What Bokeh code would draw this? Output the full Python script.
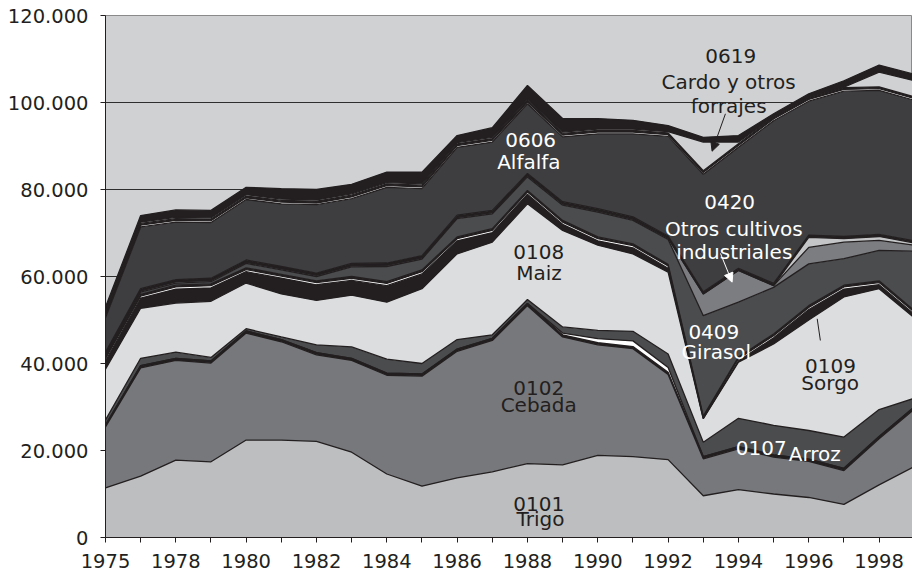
import numpy as np
from bokeh.plotting import figure
from bokeh.models import Range1d, FixedTicker, Arrow, NormalHead, ColumnDataSource
from bokeh.embed import file_html
from bokeh.resources import INLINE
from bokeh.core.properties import value

# ---------------- data (hectares) ----------------
years = ["1975", "1977", "1978", "1979", "1980", "1981", "1982", "1983", "1984", "1985",
         "1986", "1987", "1988", "1989", "1990", "1991", "1992", "1993", "1994", "1995",
         "1996", "1997", "1998", "1999"]

trigo = [11400, 14100, 17800, 17400, 22400, 22400, 22100, 19600, 14600, 11800, 13700, 15100,
         17000, 16700, 18900, 18600, 17900, 9600, 11000, 10000, 9200, 7600, 12100, 16300]
cebada = [14000, 24900, 22900, 22700, 24600, 22600, 19900, 21100, 22700, 25300, 29100, 30200,
          36300, 29400, 25400, 24800, 19600, 8500, 9400, 8500, 8300, 7800, 10600, 13200]
avena = [500, 500, 500, 500, 500, 500, 500, 500, 500, 500, 500, 500,
         500, 500, 500, 500, 500, 500, 500, 500, 500, 500, 500, 500]
centeno = [0, 0, 0, 0, 0, 0, 0, 0, 0, 0, 0, 0,
           0, 400, 900, 1300, 1100, 0, 0, 0, 0, 0, 0, 0]
arroz = [1100, 1700, 1400, 800, 500, 600, 1800, 2600, 3200, 2400, 2200, 800,
         900, 1400, 1900, 2200, 3100, 3300, 6500, 6800, 6600, 7200, 6200, 2000]
maiz = [11700, 11500, 11300, 12900, 10500, 9900, 10200, 11900, 13100, 17200, 19700, 21300,
        22000, 22200, 19600, 17800, 18800, 5400, 12900, 18700, 25400, 32200, 27800, 18500]
sorgo = [1900, 2300, 3200, 3100, 2600, 3600, 3600, 3400, 3800, 3400, 3000, 2200,
         2200, 1400, 1000, 1400, 900, 100, 300, 1400, 2400, 1800, 900, 800]
otros_cereales = [500, 500, 500, 500, 500, 500, 500, 500, 500, 500, 500, 500,
                  500, 500, 500, 500, 500, 200, 500, 500, 500, 500, 500, 500]
leguminosas = [400, 400, 400, 400, 400, 400, 400, 400, 400, 400, 400, 400,
               400, 400, 400, 400, 400, 300, 400, 400, 400, 400, 400, 400]
girasol = [300, 500, 500, 500, 1000, 1000, 1000, 2200, 3500, 2500, 4200, 3400,
           3100, 3500, 5700, 5400, 5700, 23100, 12600, 10700, 9600, 6100, 7000, 13600]
otros_industriales = [300, 300, 300, 300, 300, 300, 300, 300, 300, 300, 300, 300,
                      300, 300, 300, 300, 300, 5000, 7300, 400, 3800, 3800, 2300, 1400]
hortalizas = [0, 0, 0, 0, 0, 0, 0, 0, 0, 0, 0, 0,
              0, 0, 0, 0, 0, 0, 0, 0, 2300, 800, 900, 500]
otros_cultivos = [500, 500, 500, 500, 500, 500, 500, 500, 500, 500, 500, 500,
                  500, 500, 500, 500, 500, 500, 500, 500, 500, 500, 500, 500]
alfalfa = [7900, 14200, 13200, 12800, 13900, 14400, 15700, 14900, 17400, 15400, 15600, 15700,
           16000, 14900, 17200, 19100, 22900, 27000, 27800, 37400, 30800, 33400, 33100, 32300]
veza = [400, 400, 400, 400, 400, 400, 400, 400, 400, 400, 400, 400,
        400, 400, 400, 400, 400, 400, 400, 400, 400, 400, 400, 400]
maiz_forrajero = [400, 400, 400, 400, 400, 400, 400, 400, 400, 400, 400, 400,
                  400, 400, 400, 400, 400, 400, 400, 400, 400, 400, 400, 400]
cardo = [300, 300, 300, 300, 300, 300, 300, 300, 300, 300, 300, 300,
         300, 300, 300, 300, 300, 6600, 400, 100, 100, 100, 3400, 3700]
resto = [1400, 1500, 1700, 1700, 1700, 2400, 2400, 2200, 2400, 2700, 1600, 2200,
         3100, 3100, 2400, 2000, 1400, 1100, 1500, 700, 800, 1500, 1600, 1500]

y_ticks = [0, 20000, 40000, 60000, 80000, 100000, 120000]
y_tick_labels = ["0", "20.000", "40.000", "60.000", "80.000", "100.000", "120.000"]

# labels drawn on the chart: text, year position, value position, colour
label_text = ["0619", "Cardo y otros", "forrajes", "0606", "Alfalfa", "0108", "Maiz",
              "0102", "Cebada", "0101", "Trigo", "0420", "Otros cultivos", "industriales",
              "0409", "Girasol", "0109", "Sorgo", "0107", "Arroz"]
label_x = [17.78, 17.72, 17.72, 12.09, 12.04, 12.32, 12.33, 12.32, 12.32, 12.32, 12.37,
           17.75, 17.87, 17.88, 17.30, 17.37, 20.62, 20.61, 18.65, 20.17]
label_y = [110800, 104700, 99300, 91270, 86290, 65590, 60760, 34420, 30500, 7740, 4140,
           77090, 70970, 65590, 47200, 42600, 39540, 35560, 20530, 19240]
label_color = ["#231f20", "#231f20", "#231f20", "white", "white", "#231f20", "#231f20",
               "#231f20", "#231f20", "#231f20", "#231f20", "white", "white", "white",
               "white", "white", "#231f20", "#231f20", "white", "white"]

# ---------------- figure ----------------
INK = "#231f20"
p = figure(width=912, height=575,
           x_range=Range1d(0, 22.95), y_range=Range1d(0, 120000),
           output_backend="svg", toolbar_location=None,
           min_border_left=105, min_border_right=0, min_border_top=15, min_border_bottom=38,
           background_fill_color="#d0d1d3", border_fill_color="white",
           outline_line_color="#8a8a8a", outline_line_width=1)

x = np.arange(len(years))
layers = [
    (trigo, "#bdbec0"), (cebada, "#77787b"), (avena, INK), (centeno, "white"),
    (arroz, "#4b4c4e"), (maiz, "#dcdddf"), (sorgo, INK), (otros_cereales, "white"),
    (leguminosas, INK), (girasol, "#4b4c4e"), (otros_industriales, "#7c7d80"),
    (hortalizas, "#c4c5c7"), (otros_cultivos, INK), (alfalfa, "#3e3e40"),
    (veza, "white"), (maiz_forrajero, INK), (cardo, "#d0d1d3"), (resto, INK),
]

bottom = np.zeros(len(years))
tops = []
for vals, col in layers:
    top = bottom + np.array(vals, dtype=float)
    p.varea(x=x, y1=bottom, y2=top, fill_color=col, fill_alpha=1.0)
    tops.append(top)
    bottom = top
for top in tops:
    p.line(x=x, y=top, line_color=INK, line_width=1.3)

# grid
p.xgrid.visible = False
p.ygrid.ticker = FixedTicker(ticks=[20000, 40000, 60000, 80000, 100000])
p.ygrid.grid_line_color = "#2e2e2e"
p.ygrid.grid_line_width = 1

# axes
FONT = "DejaVu Sans"
p.yaxis.ticker = FixedTicker(ticks=y_ticks)
p.yaxis.major_label_overrides = {t: l for t, l in zip(y_ticks, y_tick_labels)}
p.xaxis.ticker = FixedTicker(ticks=list(range(len(years))))
p.xaxis.major_label_overrides = {i: (years[i] if i % 2 == 0 else "") for i in range(len(years))}
for ax in (p.xaxis[0], p.yaxis[0]):
    ax.axis_line_color = INK
    ax.axis_line_width = 1
    ax.major_tick_line_color = INK
    ax.major_tick_out = 5
    ax.major_tick_in = 0
    ax.minor_tick_line_color = None
    ax.major_label_text_font = FONT
    ax.major_label_text_font_size = "19.5px"
    ax.major_label_text_color = INK
p.yaxis.major_label_standoff = 12
p.xaxis.major_label_standoff = 11

# labels
src = ColumnDataSource(dict(x=label_x, y=label_y, text=label_text, color=label_color))
p.text(x="x", y="y", text="text", source=src, text_color="color",
       text_font=value(FONT), text_font_size="20px",
       text_align="center", text_baseline="alphabetic")

# arrows
p.add_layout(Arrow(end=NormalHead(size=9, fill_color=INK, line_color=INK),
                   x_start=17.63, y_start=97400, x_end=17.25, y_end=88800,
                   line_color=INK, line_width=1))
p.add_layout(Arrow(end=NormalHead(size=9, fill_color="white", line_color="white"),
                   x_start=17.49, y_start=65300, x_end=17.82, y_end=58700,
                   line_color="white", line_width=1))
p.segment(x0=[20.24], y0=[50280], x1=[20.33], y1=[45290], line_color=INK, line_width=1)

open("out.html", "w").write(file_html(p, INLINE, title="Superficie de cultivos"))
